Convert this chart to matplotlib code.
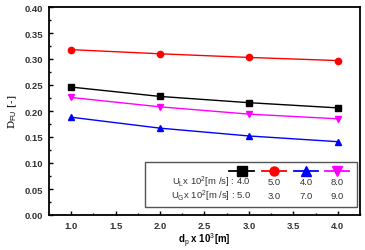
import matplotlib
matplotlib.use('Agg')
import matplotlib.pyplot as plt
from matplotlib.lines import Line2D
from matplotlib.patches import Rectangle
from matplotlib.ticker import MultipleLocator

plt.rcParams.update({
    'font.family': 'Liberation Sans',
    'font.size': 6,
    'axes.linewidth': 1.3,
    'mathtext.fontset': 'custom',
    'mathtext.rm': 'Liberation Sans',
})

# ── Data ──────────────────────────────────────────────────────────────────────
DP = [1.0, 2.0, 3.0, 4.0]
D_BLACK = [0.246, 0.228, 0.216, 0.206]
D_RED = [0.318, 0.310, 0.303, 0.297]
D_BLUE = [0.188, 0.167, 0.152, 0.141]
D_MAGENTA = [0.226, 0.208, 0.194, 0.185]

UL_VALUES = ['4.0', '5.0', '4.0', '8.0']
UG_VALUES = ['5.0', '3.0', '7.0', '9.0']

SERIES = [
    (D_BLACK, 'black', 's'),
    (D_RED, 'red', 'o'),
    (D_BLUE, 'blue', '^'),
    (D_MAGENTA, 'magenta', 'v'),
]

fig = plt.figure(figsize=(3.65, 2.51), dpi=100)
ax = fig.add_axes([49 / 365, 35 / 251, 311 / 365, 208 / 251])

for vals, col, mk in SERIES:
    ax.plot(DP, vals, color=col, marker=mk, markersize=4.5, linewidth=1.0)

ax.set_xlim(0.75, 4.25)
ax.set_ylim(0.0, 0.40)
ax.xaxis.set_major_locator(MultipleLocator(0.5))
ax.xaxis.set_minor_locator(MultipleLocator(0.25))
ax.yaxis.set_major_locator(MultipleLocator(0.05))
ax.yaxis.set_minor_locator(MultipleLocator(0.025))
ax.xaxis.set_major_formatter(plt.FuncFormatter(lambda v, p: f'{v:.1f}'))
ax.yaxis.set_major_formatter(plt.FuncFormatter(lambda v, p: f'{v:.2f}'))
ax.tick_params(which='both', direction='in', top=False, right=False, width=1.0)
ax.tick_params(which='major', length=3, labelsize=6.8, pad=4)
ax.tick_params(which='minor', length=1.5)
for lab in ax.get_xticklabels() + ax.get_yticklabels():
    lab.set_fontweight('bold')
    lab.set_color('#333333')

ax.set_xlabel(r'd$_{\rm p}$ x 10$^{3}$[m]', fontsize=7, fontweight='bold', labelpad=1)
ax.set_ylabel(r'D$_{\rm FU}$ [-]', fontsize=7.5, family='DejaVu Serif', labelpad=4)

# ── Custom legend box ─────────────────────────────────────────────────────────
ax.add_patch(Rectangle((0.309, 0.038), 0.681, 0.217, transform=ax.transAxes,
                       fill=False, edgecolor='#555555', linewidth=1.0, zorder=5))
col_x = [(241.7 - 49) / 311, (274 - 49) / 311, (306 - 49) / 311, (337 - 49) / 311]
row_marker = (216 - 172.3) / 208
row_ul = (216 - 182.7) / 208
row_ug = (216 - 196.7) / 208
for (vals, col, mk), cx in zip(SERIES, col_x):
    ax.add_line(Line2D([cx - 0.04, cx + 0.04], [row_marker, row_marker],
                       transform=ax.transAxes, color=col, linewidth=1.3))
    ax.add_line(Line2D([cx], [row_marker], transform=ax.transAxes, color=col,
                       marker=mk, markersize=6.5))
for i, cx in enumerate(col_x):
    if i == 0:
        continue
    ax.text(cx, row_ul, UL_VALUES[i], transform=ax.transAxes, ha='center', va='center',
            fontsize=6.8, color='#333333')
    ax.text(cx, row_ug, UG_VALUES[i], transform=ax.transAxes, ha='center', va='center',
            fontsize=6.8, color='#333333')
ax.text(col_x[0] + 0.03, row_ul, r'U$_{\rm L}$x 10$^{2}$[m /s] : ' + UL_VALUES[0],
        transform=ax.transAxes, ha='right', va='center', fontsize=6.8, color='#333333')
ax.text(col_x[0] + 0.03, row_ug, r'U$_{\rm G}$x 10$^{2}$[m /s] : ' + UG_VALUES[0],
        transform=ax.transAxes, ha='right', va='center', fontsize=6.8, color='#333333')

fig.savefig('out.png', dpi=100, facecolor='white')
